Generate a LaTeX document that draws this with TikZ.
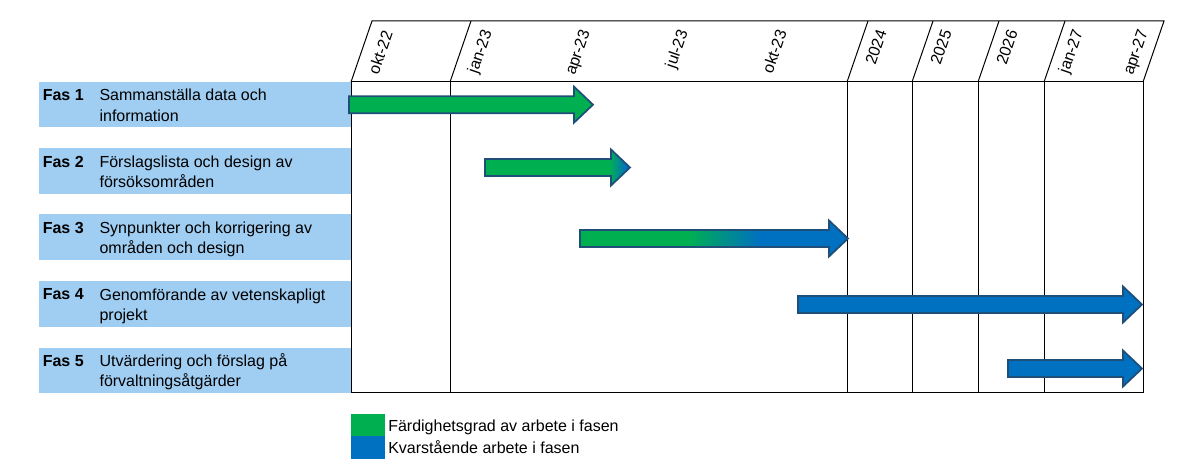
\documentclass[tikz,border=0pt]{standalone}
\usepackage{fontspec}
\setmainfont{Liberation Sans}
\definecolor{bandblue}{HTML}{A0CDF2}
\definecolor{gGreen}{HTML}{00B050}
\definecolor{gBlue}{HTML}{0070C0}
\definecolor{gEdge}{HTML}{1F4E79}
\begin{document}
\begin{tikzpicture}[x=0.75pt,y=-0.75pt,
  font=\fontsize{12}{15.2}\selectfont,
  bandbox/.style={fill=bandblue,draw=none},
  gridline/.style={draw=black,line width=0.75pt},
  barline/.style={draw=gEdge,line width=1.3pt,line join=miter},
  faslabel/.style={font=\fontsize{12}{15.2}\selectfont\bfseries,anchor=base west,inner sep=0pt},
  desc/.style={anchor=north west,align=left,inner sep=0pt},
  ticklabel/.style={rotate=71,anchor=base east,inner sep=0pt},
  legtext/.style={anchor=base west,inner sep=0pt}]
\useasboundingbox (0,0) rectangle (1177,470);

% phase bands
\path[bandbox] (39,82) rectangle (351,127.5);
\path[bandbox] (39,148.5) rectangle (351,194);
\path[bandbox] (39,214.5) rectangle (351,260);
\path[bandbox] (39,281) rectangle (351,326.5);
\path[bandbox] (39,347.5) rectangle (351,393);

% phase labels (first baseline = band centre - 4)
\node[faslabel] (f1) at (42.5,100.75) {Fas 1};
\node[desc] (d1) at (99.3,87.4) {\rule{0pt}{10pt}Sammanställa data och\\information};
\node[faslabel] (f2) at (42.5,167.25) {Fas 2};
\node[desc] (d2) at (99.3,153.9) {\rule{0pt}{10pt}Förslagslista och design av\\försöksområden};
\node[faslabel] (f3) at (42.5,233.25) {Fas 3};
\node[desc] (d3) at (99.3,219.9) {\rule{0pt}{10pt}Synpunkter och korrigering av\\områden och design};
\node[faslabel] (f4) at (42.5,299.75) {Fas 4};
\node[desc] (d4) at (99.3,286.4) {\rule{0pt}{10pt}Genomförande av vetenskapligt\\projekt};
\node[faslabel] (f5) at (42.5,366.25) {Fas 5};
\node[desc] (d5) at (99.3,352.9) {\rule{0pt}{10pt}Utvärdering och förslag på\\förvaltningsåtgärder};

% header parallelogram and grid
\draw[gridline] (351,82) -- (372,21) -- (1164,21) -- (1143,82);
\draw[gridline] (450,82) -- (471,21);
\draw[gridline] (847,82) -- (868,21);
\draw[gridline] (912,82) -- (933,21);
\draw[gridline] (978,82) -- (999,21);
\draw[gridline] (1044,82) -- (1065,21);
\draw[gridline] (351,82) rectangle (1143,392.5);
\foreach \gx in {450,847,912,978,1044}
  \draw[gridline] (\gx,82) -- (\gx,392.5);

% header labels
\node[ticklabel] (t1) at (393,33) {okt-22};
\node[ticklabel] (t2) at (492,32) {jan-23};
\node[ticklabel] (t3) at (590,32) {apr-23};
\node[ticklabel] (t4) at (688,32) {jul-23};
\node[ticklabel] (t5) at (787,32) {okt-23};
\node[ticklabel] (t6) at (887,32) {2024};
\node[ticklabel] (t7) at (952,32) {2025};
\node[ticklabel] (t8) at (1018,32) {2026};
\node[ticklabel] (t9) at (1083,32) {jan-27};
\node[ticklabel] (t10) at (1148,32) {apr-27};

% bar 1 (green)
\filldraw[barline,fill=gGreen] (349,96.2) -- (574,96.2) -- (574,86.7) -- (593,104.7) -- (574,122.7) -- (574,113.2) -- (349,113.2) -- cycle;

% bar 2 (green, blue tip)
\begin{scope}
\clip (485,159) -- (611,159) -- (611,149.5) -- (630,167.5) -- (611,185.5) -- (611,176) -- (485,176) -- cycle;
\fill[gGreen] (480,145) rectangle (609,190);
\shade[left color=gGreen,right color=gBlue] (609,145) rectangle (626,190);
\fill[gBlue] (626,145) rectangle (635,190);
\end{scope}
\draw[barline] (485,159) -- (611,159) -- (611,149.5) -- (630,167.5) -- (611,185.5) -- (611,176) -- (485,176) -- cycle;

% bar 3 (green to blue)
\begin{scope}
\clip (580,230) -- (829,230) -- (829,220.5) -- (848,238.5) -- (829,256.5) -- (829,247) -- (580,247) -- cycle;
\fill[gGreen] (575,215) rectangle (687,262);
\shade[left color=gGreen,right color=gBlue] (687,215) rectangle (760,262);
\fill[gBlue] (760,215) rectangle (852,262);
\end{scope}
\draw[barline] (580,230) -- (829,230) -- (829,220.5) -- (848,238.5) -- (829,256.5) -- (829,247) -- (580,247) -- cycle;

% bar 4 (blue)
\filldraw[barline,fill=gBlue] (798,296) -- (1123,296) -- (1123,286.5) -- (1142,304.5) -- (1123,322.5) -- (1123,313) -- (798,313) -- cycle;

% bar 5 (blue)
\filldraw[barline,fill=gBlue] (1008,360) -- (1123,360) -- (1123,350.5) -- (1142,368.5) -- (1123,386.5) -- (1123,377) -- (1008,377) -- cycle;

% legend
\fill[gGreen] (351,414) rectangle (385,436);
\fill[gBlue] (351,436) rectangle (385,459);
\node[legtext] (l1) at (388,431.7) {Färdighetsgrad av arbete i fasen};
\node[legtext] (l2) at (388,453.3) {Kvarstående arbete i fasen};
\end{tikzpicture}
\end{document}
